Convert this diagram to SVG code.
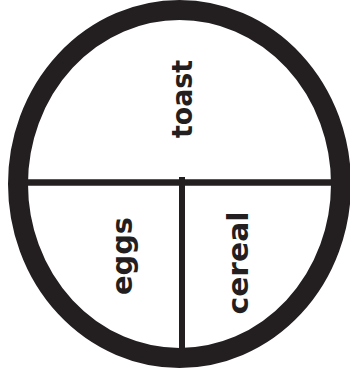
<svg xmlns="http://www.w3.org/2000/svg" width="350" height="374" viewBox="0 0 350 374">
<style>
.lbl{font-family:"DejaVu Sans","Liberation Sans",sans-serif;font-weight:bold;font-size:29px;fill:#231f20;text-anchor:middle}
.ln{stroke:#231f20;fill:none}
</style>
<rect width="350" height="374" fill="#fff"/>
<g id="plate">
<ellipse class="ln" cx="179.5" cy="184" rx="161.5" ry="174" stroke-width="20"/>
</g>
<g id="connectors">
<line class="ln" x1="28" y1="182.5" x2="332" y2="182.5" stroke-width="6.5"/>
<line class="ln" x1="182" y1="177" x2="182" y2="350" stroke-width="6"/>
</g>
<g id="toast">
<text class="lbl" transform="translate(192,99) rotate(-90)" textLength="78" lengthAdjust="spacingAndGlyphs">toast</text>
</g>
<g id="eggs">
<text class="lbl" transform="translate(132,256) rotate(-90)" textLength="78" lengthAdjust="spacingAndGlyphs">eggs</text>
</g>
<g id="cereal">
<text class="lbl" transform="translate(248,263) rotate(-90)" textLength="103" lengthAdjust="spacingAndGlyphs">cereal</text>
</g>
</svg>
